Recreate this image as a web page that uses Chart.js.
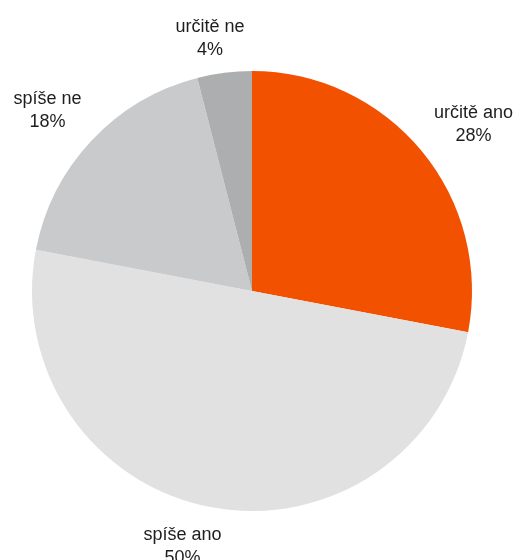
<!DOCTYPE html>
<html>
<head>
<meta charset="utf-8">
<script src="https://cdn.jsdelivr.net/npm/chart.js@4"></script>
<style>
  html, body { margin: 0; padding: 0; background: #fff; }
  #wrap { width: 515px; height: 560px; }
</style>
</head>
<body>
<div id="wrap"><canvas id="chart" width="515" height="560"></canvas></div>
<script>
// odpovědi a podíly v %
const labels = ["určitě ano", "spíše ano", "spíše ne", "určitě ne"];
const values = [28, 50, 18, 4];
const colors = ["#F25100", "#E1E1E1", "#C9CACC", "#ADAEB0"];

// posun popisků vůči výchozí pozici na ose výseče
const labelShift = [[18, 7], [-20, 1], [-12, 5], [-9, 14]];

// popisky mimo výseče: název + procenta
const outsideLabels = {
  id: "outsideLabels",
  afterDatasetsDraw(chart) {
    const ctx = chart.ctx;
    const meta = chart.getDatasetMeta(0);
    ctx.save();
    ctx.font = "18px 'Liberation Sans', Arial, sans-serif";
    ctx.fillStyle = "#1e1e1e";
    ctx.textAlign = "center";
    ctx.textBaseline = "alphabetic";
    meta.data.forEach((arc, i) => {
      const mid = (arc.startAngle + arc.endAngle) / 2;
      const r = arc.outerRadius * 1.2;
      const x = arc.x + Math.cos(mid) * r + labelShift[i][0];
      const y = arc.y + Math.sin(mid) * r + labelShift[i][1];
      ctx.fillText(labels[i], x, y - 11.5);
      ctx.fillText(values[i] + "%", x, y + 11.5);
    });
    ctx.restore();
  },
};

const ctx = document.getElementById("chart").getContext("2d");
const chart = new Chart(ctx, {
  type: "pie",
  data: {
    labels: labels,
    datasets: [
      {
        data: values,
        backgroundColor: colors,
        borderWidth: 0,
      },
    ],
  },
  options: {
    responsive: false,
    animation: false,
    layout: {
      padding: { left: 32, right: 43, top: 71, bottom: 49 },
    },
    plugins: {
      legend: { display: false },
      tooltip: { enabled: false },
    },
  },
  plugins: [outsideLabels],
});
</script>
</body>
</html>
